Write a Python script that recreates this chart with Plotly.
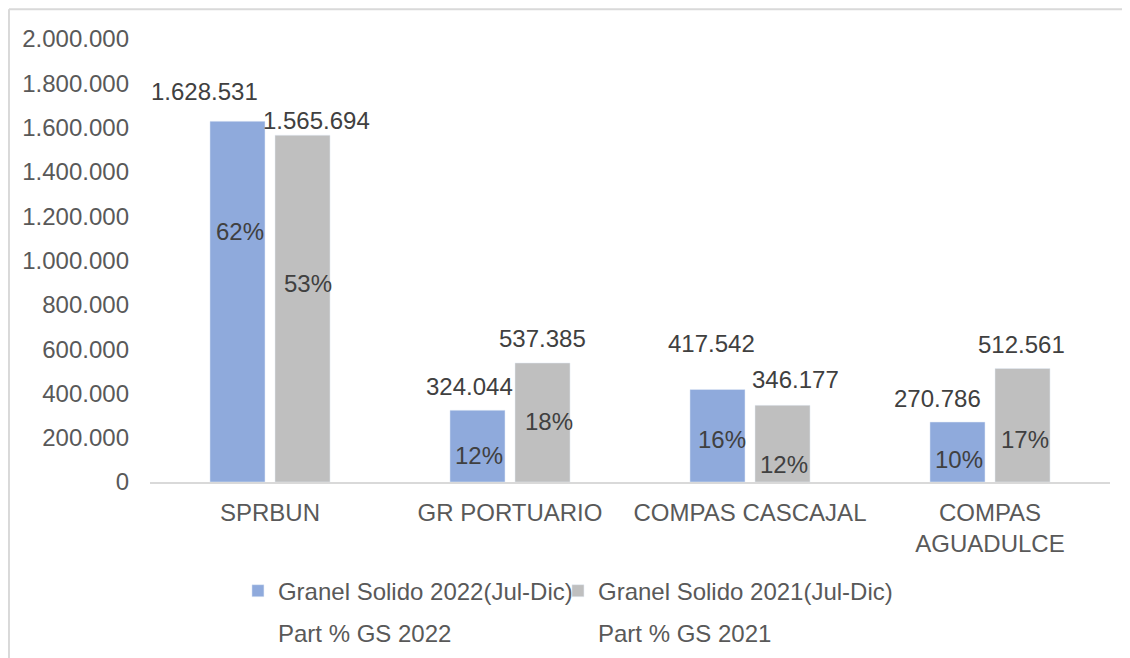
import plotly.graph_objects as go

# ---------------- data ----------------
categories = ["SPRBUN", "GR PORTUARIO", "COMPAS CASCAJAL", "COMPAS<br>AGUADULCE"]
gs_2022 = [1628531, 324044, 417542, 270786]
gs_2021 = [1565694, 537385, 346177, 512561]
part_2022 = [0.62, 0.12, 0.16, 0.10]
part_2021 = [0.53, 0.18, 0.12, 0.17]
y_tick_values = [0, 200000, 400000, 600000, 800000, 1000000,
                 1200000, 1400000, 1600000, 1800000, 2000000]
series_names = ["Granel Solido 2022(Jul-Dic)", "Granel Solido 2021(Jul-Dic)",
                "Part % GS 2022", "Part % GS 2021"]

# ---------------- style ----------------
FONT = "Liberation Sans, Arial, sans-serif"
FS = 24
BLUE = "#8FAADC"
GREY = "#BFBFBF"
TXT_DARK = "#404040"
TXT_MID = "#595959"
AXIS = "#D9D9D9"
BAR_HALF_OFFSET = 32.5  # px from category centre to each bar centre

# manual label nudges (px) as in the original Excel chart: (dx, dy above bar top)
val_nudge_2022 = [(-33, 30), (-8, 24), (-6, 46), (-20, 24)]
val_nudge_2021 = [(14, 15), (0, 24), (13, 26), (-1, 24)]
# percentage label heights (in axis units) and small x nudges
pct_y_2022 = [1129000, 120500, 192000, 101600]
pct_y_2021 = [895000, 274500, 79000, 192000]
pct_dx_2022 = [2, 1, 4, 1]
pct_dx_2021 = [5, 6, 1, 2]


def thousands(v):
    return f"{v:,}".replace(",", ".")


fig = go.Figure()
fig.add_trace(go.Bar(x=categories, y=gs_2022, name=series_names[0],
                     marker=dict(color=BLUE), legend="legend", showlegend=True))
fig.add_trace(go.Bar(x=categories, y=gs_2021, name=series_names[1],
                     marker=dict(color=GREY), legend="legend2", showlegend=True))
fig.add_trace(go.Scatter(x=[None], y=[None], mode="markers", name=series_names[2],
                         marker=dict(color="rgba(0,0,0,0)", size=1),
                         legend="legend3", showlegend=True))
fig.add_trace(go.Scatter(x=[None], y=[None], mode="markers", name=series_names[3],
                         marker=dict(color="rgba(0,0,0,0)", size=1),
                         legend="legend4", showlegend=True))

annotations = []
for i, cat in enumerate(categories):
    for side, vals, nudges, parts, pys, pdx in (
        (-1, gs_2022, val_nudge_2022, part_2022, pct_y_2022, pct_dx_2022),
        (1, gs_2021, val_nudge_2021, part_2021, pct_y_2021, pct_dx_2021),
    ):
        dx, dy = nudges[i]
        annotations.append(dict(
            x=cat, y=vals[i], xref="x", yref="y",
            text=thousands(vals[i]), showarrow=False,
            xshift=side * BAR_HALF_OFFSET + dx, yshift=dy,
            xanchor="center", yanchor="middle",
            font=dict(family=FONT, size=FS, color=TXT_DARK)))
        annotations.append(dict(
            x=cat, y=pys[i], xref="x", yref="y",
            text=f"{round(parts[i] * 100)}%", showarrow=False,
            xshift=side * BAR_HALF_OFFSET + pdx[i],
            xanchor="center", yanchor="middle",
            font=dict(family=FONT, size=FS, color=TXT_DARK)))


def legend_box(x, y):
    return dict(
        orientation="h", xref="container", yref="container",
        x=x, y=y, xanchor="left", yanchor="top",
        font=dict(family=FONT, size=FS, color=TXT_MID),
        bgcolor="rgba(0,0,0,0)", visible=True)


fig.update_layout(
    width=1130, height=658,
    showlegend=True,
    margin=dict(l=142, r=28, t=31, b=184, pad=0),
    paper_bgcolor="white", plot_bgcolor="white",
    font=dict(family=FONT, size=FS, color=TXT_MID),
    separators=",.",
    barmode="group", bargap=0.458, bargroupgap=0.154,
    annotations=annotations,
    xaxis=dict(
        type="category", range=[-0.5, 3.5],
        showline=True, linecolor=AXIS, linewidth=1.5,
        showgrid=False, zeroline=False, ticks="",
        ticklabelstandoff=8,
        tickfont=dict(family=FONT, size=FS, color=TXT_MID)),
    yaxis=dict(
        range=[0, 2000000], tickvals=y_tick_values, tickformat=",d",
        showline=False, showgrid=False, zeroline=False, ticks="",
        ticklabelstandoff=20,
        tickfont=dict(family=FONT, size=FS, color=TXT_MID)),
    legend=legend_box(0.2035, 0.148),
    legend2=legend_box(0.4867, 0.148),
    legend3=legend_box(0.2035, 0.085),
    legend4=legend_box(0.4867, 0.085),
    shapes=[
        dict(type="line", xref="paper", yref="paper",
             x0=-0.1469, x1=-0.1469, y0=1.067, y1=-0.6,
             line=dict(color=AXIS, width=2)),
        dict(type="line", xref="paper", yref="paper",
             x0=-0.1469, x1=1.2, y0=1.067, y1=1.067,
             line=dict(color=AXIS, width=2)),
    ],
)

fig.write_html("out.html")
